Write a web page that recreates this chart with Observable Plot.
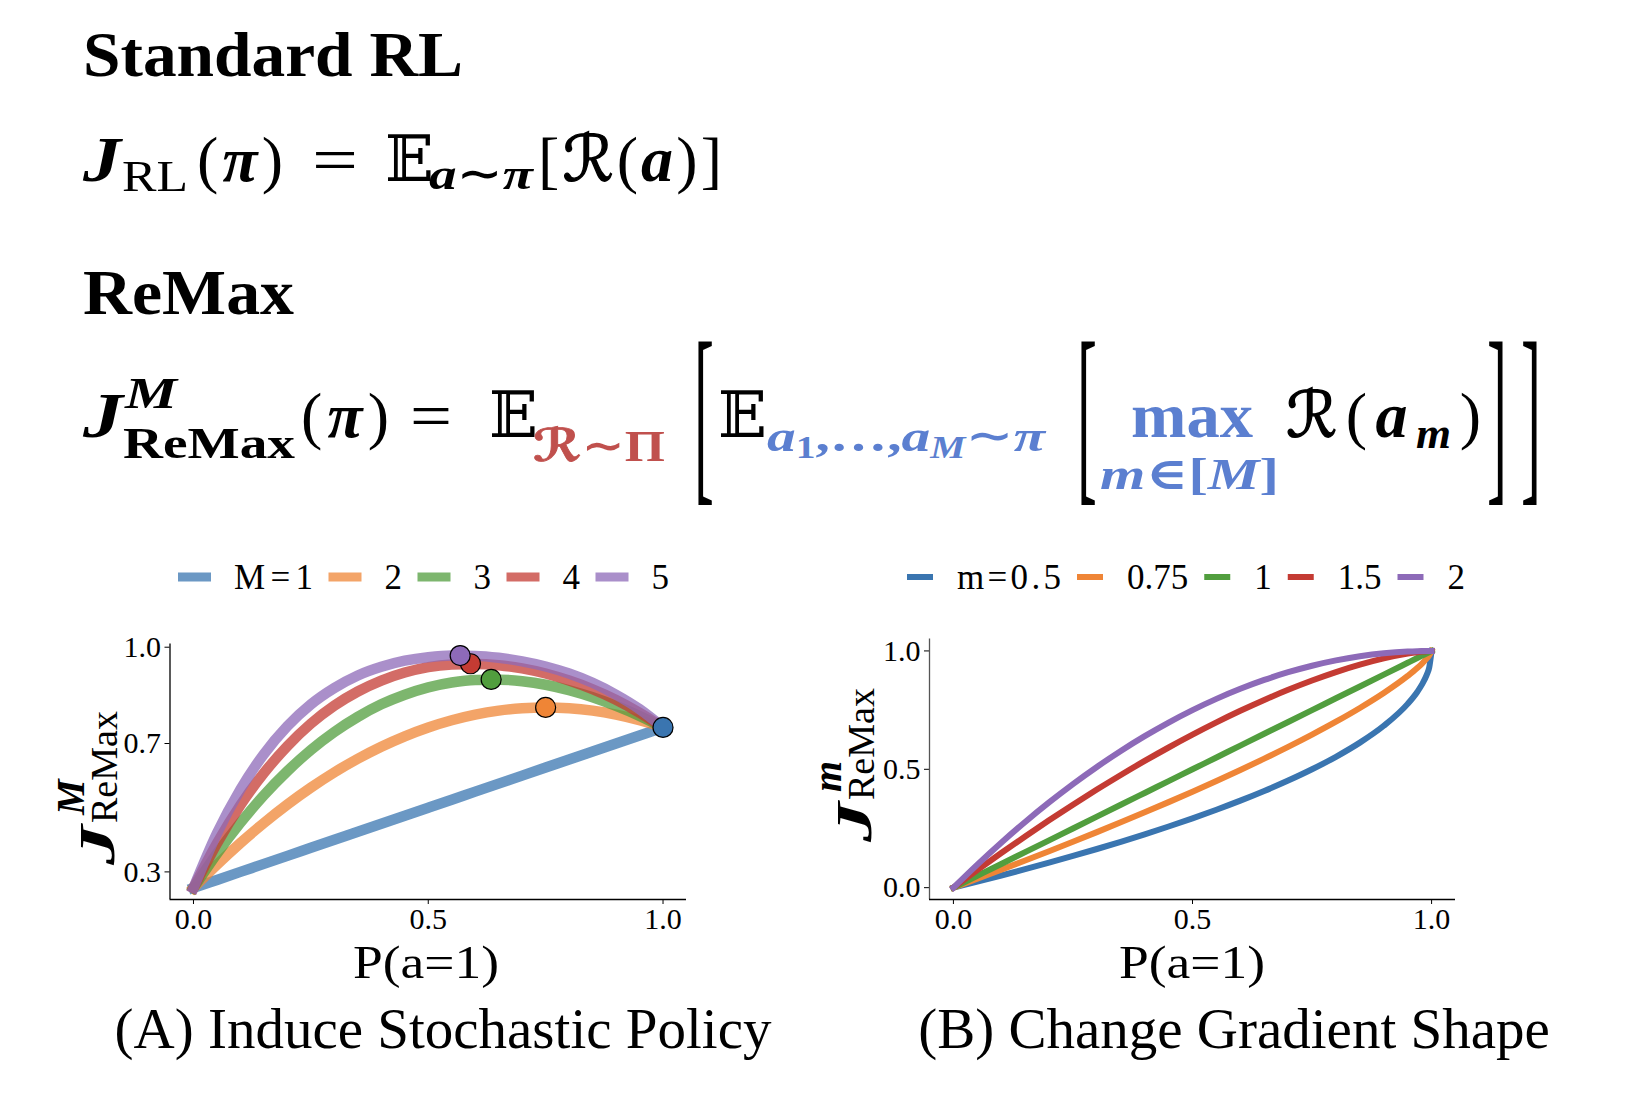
<!DOCTYPE html>
<html>
<head>
<meta charset="utf-8">
<script src="https://cdn.jsdelivr.net/npm/d3@7"></script>
<script src="https://cdn.jsdelivr.net/npm/@observablehq/plot@0.6"></script>
<style>
  html, body { margin: 0; padding: 0; background: #fff; }
  #page { position: relative; width: 1630px; height: 1108px; overflow: hidden; background: #fff; }
  #page svg { position: absolute; overflow: visible; }
</style>
</head>
<body>
<div id="page"></div>
<script>
// ---------- data ----------
// Panel A: objective J^M_ReMax as a function of P(a=1), for M = 1..5
const pA = [0, 0.05, 0.1, 0.15, 0.2, 0.25, 0.3, 0.35, 0.4, 0.45, 0.5, 0.55, 0.6, 0.65, 0.7, 0.75, 0.8, 0.85, 0.9, 0.95, 1];
const seriesM = [1, 2, 3, 4, 5];
const jM1 = [0.25, 0.275, 0.3, 0.325, 0.35, 0.375, 0.4, 0.425, 0.45, 0.475, 0.5, 0.525, 0.55, 0.575, 0.6, 0.625, 0.65, 0.675, 0.7, 0.725, 0.75];
const jM2 = [0.25, 0.3225, 0.39, 0.4525, 0.51, 0.5625, 0.61, 0.6525, 0.69, 0.7225, 0.75, 0.7725, 0.79, 0.8025, 0.81, 0.8125, 0.81, 0.8025, 0.79, 0.7725, 0.75];
const jM3 = [0.25, 0.357, 0.453, 0.539, 0.614, 0.680, 0.736, 0.783, 0.822, 0.852, 0.875, 0.890, 0.898, 0.899, 0.894, 0.883, 0.866, 0.844, 0.817, 0.786, 0.75];
const jM4 = [0.25, 0.389, 0.508, 0.608, 0.692, 0.762, 0.818, 0.862, 0.896, 0.921, 0.938, 0.946, 0.948, 0.944, 0.934, 0.918, 0.896, 0.869, 0.836, 0.796, 0.75];
const jM5 = [0.25, 0.420, 0.557, 0.667, 0.754, 0.822, 0.873, 0.912, 0.939, 0.958, 0.969, 0.974, 0.973, 0.967, 0.956, 0.940, 0.918, 0.889, 0.852, 0.807, 0.75];
// maximiser of each curve (marked with a dot)
const peakP = [1.0, 0.75, 0.634, 0.59, 0.568];
const peakJ = [0.75, 0.8125, 0.8996, 0.9485, 0.9739];

// Panel B: J^m_ReMax for fractional m
const pB = [0, 0.05, 0.1, 0.15, 0.2, 0.25, 0.3, 0.35, 0.4, 0.45, 0.5, 0.55, 0.6, 0.65, 0.7, 0.75, 0.8, 0.85, 0.9, 0.95, 0.97, 0.98, 0.99, 0.995, 1];
const seriesm = ["0.5", "0.75", "1", "1.5", "2"];
const jm05 = [0, 0.0253, 0.0513, 0.0781, 0.1056, 0.1340, 0.1633, 0.1938, 0.2254, 0.2584, 0.2929, 0.3292, 0.3675, 0.4084, 0.4523, 0.5, 0.5528, 0.6127, 0.6838, 0.7764, 0.8268, 0.8586, 0.9, 0.9293, 1];
const jm075 = [0, 0.0377, 0.0760, 0.1148, 0.1541, 0.1941, 0.2347, 0.2761, 0.3183, 0.3613, 0.4054, 0.4506, 0.4970, 0.5450, 0.5946, 0.6464, 0.7009, 0.7590, 0.8222, 0.8943, 0.9279, 0.9468, 0.9684, 0.9812, 1];
const jm1 = [0, 0.05, 0.1, 0.15, 0.2, 0.25, 0.3, 0.35, 0.4, 0.45, 0.5, 0.55, 0.6, 0.65, 0.7, 0.75, 0.8, 0.85, 0.9, 0.95, 0.97, 0.98, 0.99, 0.995, 1];
const jm15 = [0, 0.0740, 0.1462, 0.2163, 0.2845, 0.3505, 0.4143, 0.4760, 0.5352, 0.5921, 0.6464, 0.6981, 0.7470, 0.7929, 0.8357, 0.875, 0.9106, 0.9419, 0.9684, 0.9888, 0.9948, 0.9972, 0.9990, 0.9996, 1];
const jm2 = [0, 0.0975, 0.19, 0.2775, 0.36, 0.4375, 0.51, 0.5775, 0.64, 0.6975, 0.75, 0.7975, 0.84, 0.8775, 0.91, 0.9375, 0.96, 0.9775, 0.99, 0.9975, 0.9991, 0.9996, 0.9999, 1, 1];

// axis ticks
const xTicks = [0, 0.5, 1];
const yTicksA = [0.3, 0.7, 1.0];
const yTicksB = [0, 0.5, 1];

// legend labels
const legendA = ["M=1", "2", "3", "4", "5"];
const legendB = ["m=0.5", "0.75", "1", "1.5", "2"];

// ---------- styling ----------
const palette = ["#3a75b0", "#ef8536", "#519e3e", "#c43b33", "#8d6ab8"];
const SERIF = "'Liberation Serif', 'DejaVu Serif', serif";
const MATH = "'Liberation Serif', 'DejaVu Serif', 'DejaVu Sans', serif";
const RED = "#c0504d";
const BLUE = "#5b7fd0";
const FS = 64;   // equation body size
const SS = 45;   // equation script size

// ---------- tables ----------
const colsA = [jM1, jM2, jM3, jM4, jM5];
const tableA = seriesM.flatMap((M, i) => pA.map((p, k) => ({p, J: colsA[i][k], M: String(M)})));
const peaks = seriesM.map((M, i) => ({p: peakP[i], J: peakJ[i], M: String(M)}));
const colsB = [jm05, jm075, jm1, jm15, jm2];
const tableB = seriesm.flatMap((m, i) => pB.map((p, k) => ({p, J: colsB[i][k], m})));

const page = document.getElementById("page");
const fmt = d3.format(".1f");
const axisStyle = {fontFamily: SERIF, fontSize: "30px", background: "transparent", color: "#000", overflow: "visible"};

// ---------- panel A ----------
const xDomain = [-0.05, 1.05];
const yDomainA = [0.214, 1.01];
const plotA = Plot.plot({
  width: 620, height: 400,
  marginLeft: 69.5, marginRight: 34, marginTop: 43.5, marginBottom: 101,
  style: axisStyle,
  x: {domain: xDomain, ticks: xTicks, tickFormat: fmt, tickSize: 5, tickPadding: 3, label: null},
  y: {domain: yDomainA, ticks: yTicksA, tickFormat: fmt, tickSize: 5, tickPadding: 4, label: null},
  color: {domain: seriesM.map(String), range: palette},
  marks: [
    Plot.ruleX([xDomain[0]], {stroke: "#000", strokeWidth: 1.3}),
    Plot.ruleY([yDomainA[0]], {stroke: "#000", strokeWidth: 1.3}),
    Plot.line(tableA, {x: "p", y: "J", z: "M", stroke: "M", strokeWidth: 10.5, strokeOpacity: 0.75,
      curve: "monotone-x", strokeLinecap: "square", strokeLinejoin: "round"}),
    Plot.dot(peaks, {x: "p", y: "J", fill: "M", stroke: "#000", strokeWidth: 1.2, r: 10})
  ]
});
plotA.style.left = "100px";
plotA.style.top = "600px";
page.appendChild(plotA);

// ---------- panel B ----------
const yDomainB = [-0.05, 1.05];
const plotB = Plot.plot({
  width: 620, height: 400,
  marginLeft: 69, marginRight: 25, marginTop: 38.6, marginBottom: 101,
  style: axisStyle,
  x: {domain: xDomain, ticks: xTicks, tickFormat: fmt, tickSize: 5, tickPadding: 3, label: null},
  y: {domain: yDomainB, ticks: yTicksB, tickFormat: fmt, tickSize: 5, tickPadding: 4, label: null},
  color: {domain: seriesm, range: palette},
  marks: [
    Plot.ruleX([xDomain[0]], {stroke: "#555", strokeWidth: 1.3}),
    Plot.ruleY([yDomainB[0]], {stroke: "#000", strokeWidth: 1.3}),
    Plot.line(tableB, {x: "p", y: "J", z: "m", stroke: "m", strokeWidth: 6,
      curve: "monotone-x", strokeLinecap: "square", strokeLinejoin: "round"})
  ]
});
plotB.style.left = "860px";
plotB.style.top = "600px";
page.appendChild(plotB);

// ---------- text layer (headings, equations, legends, axis titles, captions) ----------
const svg = d3.create("svg").attr("width", 1630).attr("height", 1108)
  .style("left", "0px").style("top", "0px").style("pointer-events", "none");
page.appendChild(svg.node());

function put(g, x, y, str, o = {}) {
  const t = g.append("text").attr("x", x).attr("y", y).text(str)
    .attr("font-family", o.family || MATH)
    .attr("font-size", o.size || FS)
    .attr("font-weight", o.bold ? "bold" : "normal")
    .attr("font-style", o.italic ? "italic" : "normal")
    .attr("fill", o.fill || "#000");
  if (o.anchor) t.attr("text-anchor", o.anchor);
  if (o.len) t.attr("textLength", o.len).attr("lengthAdjust", o.adjust || "spacingAndGlyphs");
  return t;
}
function span(t, str, o = {}) {
  const s = t.append("tspan").text(str);
  if (o.size) s.attr("font-size", o.size);
  if (o.dy) s.attr("dy", o.dy);
  if (o.bold !== undefined) s.attr("font-weight", o.bold ? "bold" : "normal");
  if (o.italic !== undefined) s.attr("font-style", o.italic ? "italic" : "normal");
  if (o.heavy) s.attr("stroke", "currentColor").attr("stroke-width", o.heavy);
  return s;
}
// tall bracket: a "[" or "]" glyph stretched vertically between top and bottom
function bigBracket(x, top, bottom, ch) {
  const size = 60, k = (bottom - top) / (0.818 * size);
  const g = svg.append("g").attr("transform", `translate(${x},${top + 6 + 0.662 * size * k}) scale(1,${k})`);
  put(g, 0, 0, ch, {size});
}
// "(π)" style group: round brackets around a bold italic symbol
function paren(x, y, sym, len) {
  const t = put(svg, x, y, "", {len, adjust: "spacing"});
  span(t, "("); span(t, sym, {bold: true, italic: true}); span(t, ")");
  return t;
}

// Standard RL
put(svg, 83, 76, "Standard RL", {family: SERIF, size: 63, bold: true, len: 380});
put(svg, 83, 181, "J", {bold: true, italic: true, len: 38});
put(svg, 122, 191, "RL", {size: SS, len: 66});
paren(197, 181, "π", 86);
put(svg, 312, 181, "=", {len: 46});
put(svg, 385, 181, "𝔼");
put(svg, 429, 189, "a∼π", {size: SS, bold: true, italic: true, len: 104});
// [ℛ(a)]
const r1 = put(svg, 538, 181, "", {len: 184, adjust: "spacing"}).style("color", "#000");
span(r1, "["); span(r1, "ℛ", {italic: true, heavy: 1.3}); span(r1, "("); span(r1, "a", {bold: true, italic: true});
span(r1, ")"); span(r1, "]");

// ReMax
put(svg, 83, 314, "ReMax", {family: SERIF, size: 63, bold: true, len: 211});
put(svg, 83, 437, "J", {bold: true, italic: true, len: 40});
put(svg, 125, 408, "M", {size: SS, bold: true, italic: true, len: 52});
put(svg, 123, 458, "ReMax", {size: 44, bold: true, len: 172});
paren(301, 437, "π", 88);
put(svg, 410, 437, "=", {len: 42});
put(svg, 489, 437, "𝔼");
const sub1 = put(svg, 533, 461, "", {size: SS, bold: true, fill: RED, len: 132}).style("color", RED);
span(sub1, "ℛ", {italic: true, heavy: 0.8}); span(sub1, "∼Π");
bigBracket(694, 343, 504, "[");
put(svg, 718, 437, "𝔼");
const sub2 = put(svg, 767, 451, "", {size: SS, bold: true, italic: true, fill: BLUE, len: 278});
span(sub2, "a"); span(sub2, "1", {size: 31, dy: 7, italic: false}); span(sub2, ",…,", {dy: -7, italic: false});
span(sub2, "a"); span(sub2, "M", {size: 31, dy: 7}); span(sub2, "∼π", {dy: -7});
bigBracket(1077, 343, 504, "[");
put(svg, 1131, 437, "max", {bold: true, fill: BLUE, len: 122});
const sub3 = put(svg, 1100, 489, "", {size: SS, bold: true, italic: true, fill: BLUE, len: 179});
span(sub3, "m"); span(sub3, "∈[", {italic: false}); span(sub3, "M"); span(sub3, "]", {italic: false});
// ℛ(a_m)
const r2 = put(svg, 1286, 437, "", {len: 195, adjust: "spacing"}).style("color", "#000");
span(r2, "ℛ", {italic: true, heavy: 1.3}); span(r2, "("); span(r2, "a", {bold: true, italic: true});
span(r2, "m", {size: SS, bold: true, italic: true, dy: 11}); span(r2, ")", {dy: -11});
bigBracket(1487, 343, 504, "]");
bigBracket(1521, 343, 504, "]");

// legends: a line swatch followed by its label, flowed left to right
function legend(x0, yc, labels, o) {
  let x = x0;
  labels.forEach((lab, i) => {
    svg.append("line").attr("x1", x).attr("x2", x + o.swLen).attr("y1", yc).attr("y2", yc)
      .attr("stroke", palette[i]).attr("stroke-width", o.swW).attr("stroke-opacity", o.opacity);
    x += o.swLen + o.gap1;
    const t = put(svg, x, yc + o.size * 0.34, lab,
      {family: SERIF, size: o.size, len: i === 0 ? o.firstLen : undefined, adjust: "spacing"});
    x += (i === 0 ? o.firstLen : t.node().getComputedTextLength()) + o.gap2;
  });
}
legend(178, 577, legendA, {swLen: 33, swW: 9, opacity: 0.75, gap1: 23, gap2: 15.5, size: 35, firstLen: 79});
legend(907, 577, legendB, {swLen: 26, swW: 6, opacity: 1, gap1: 24, gap2: 16, size: 35, firstLen: 104});

// y-axis titles (rotated)
function yTitle(x, y, sup) {
  const g = svg.append("g").attr("transform", `translate(${x},${y}) rotate(-90)`);
  put(g, 0, 6, "J", {size: 50, bold: true, italic: true, len: 40});
  put(g, 50, -24, sup, {size: 40, bold: true, italic: true});
  put(g, 42, 9, "ReMax", {size: 37, len: 112});
}
yTitle(108, 865, "M");
yTitle(865, 842, "m");

// x-axis titles
put(svg, 426, 978, "P(a=1)", {family: SERIF, size: 47, anchor: "middle", len: 146});
put(svg, 1192, 978, "P(a=1)", {family: SERIF, size: 47, anchor: "middle", len: 146});

// panel captions
put(svg, 443, 1048, "(A) Induce Stochastic Policy", {family: SERIF, size: 57, anchor: "middle"});
put(svg, 1234, 1048, "(B) Change Gradient Shape", {family: SERIF, size: 57, anchor: "middle"});
</script>
</body>
</html>
